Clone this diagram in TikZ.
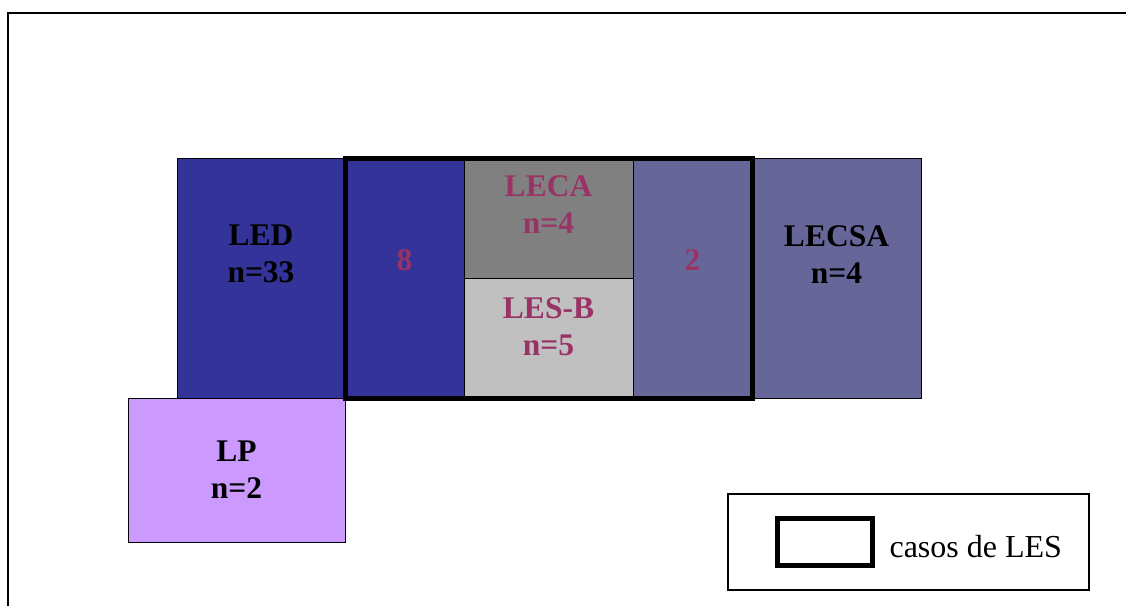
\documentclass[tikz,border=0pt]{standalone}
\usepackage{fontspec}
\setmainfont{Liberation Serif}
\usetikzlibrary{positioning,fit}
\definecolor{ledblue}{HTML}{333399}
\definecolor{slate}{HTML}{666699}
\definecolor{darkgrey}{HTML}{808080}
\definecolor{lightgrey}{HTML}{C0C0C0}
\definecolor{lilac}{HTML}{CC99FF}
\definecolor{plum}{HTML}{993366}

\begin{document}
\begin{tikzpicture}[x=1pt,y=-1pt,
cell/.style={draw,line width=1pt,inner sep=0pt,outer sep=0pt,anchor=north west},
lbl/.style={align=center,font=\fontsize{31.5}{37}\selectfont\bfseries},
inner/.style={lbl,text=plum}]
\useasboundingbox (0,0) rectangle (1126,606);
\draw[line width=2pt] (1126,13) -- (8,13) -- (8,606);
% cells
\node[cell,fill=ledblue,minimum width=168pt,minimum height=240pt] (led) at (177,158) {};
\node[cell,fill=ledblue,minimum width=119pt,minimum height=240pt,right=0pt of led.north east,anchor=north west] (eight) {};
\node[cell,fill=darkgrey,minimum width=169pt,minimum height=120pt,right=0pt of eight.north east,anchor=north west] (leca) {};
\node[cell,fill=lightgrey,minimum width=169pt,minimum height=120pt,below=0pt of leca.south west,anchor=north west] (lesb) {};
\node[cell,fill=slate,minimum width=119pt,minimum height=240pt,right=0pt of leca.north east,anchor=north west] (two) {};
\node[cell,fill=slate,minimum width=169pt,minimum height=240pt,right=0pt of two.north east,anchor=north west] (lecsa) {};
\node[cell,fill=lilac,minimum width=217pt,minimum height=144pt] (lp) at (128,398) {};
% LES frame
\node[draw,line width=5pt,inner sep=0pt,outer sep=0pt,fit=(eight)(two)] (les) {};
% labels
\node[lbl] at ([yshift=24pt]led.center) {LED\\n=33};
\node[inner] at ([yshift=18pt]eight.center) {8};
\node[inner] at ([yshift=13pt]leca.center) {LECA\\n=4};
\node[inner] at ([yshift=11pt]lesb.center) {LES-B\\n=5};
\node[inner] at ([yshift=18pt]two.center) {2};
\node[lbl] at ([yshift=23pt]lecsa.center) {LECSA\\n=4};
\node[lbl] at (lp.center) {LP\\n=2};
% legend
\node[draw,line width=1.5pt,minimum width=361pt,minimum height=96pt,inner sep=0pt,outer sep=0pt,anchor=north west] (legend) at (728,494) {};
\node[draw,line width=5pt,minimum width=95pt,minimum height=47pt,inner sep=0pt,outer sep=0pt,anchor=north west] (sample) at (777,518) {};
\node[font=\fontsize{32}{37}\selectfont,anchor=west,right=14pt of sample,yshift=-5pt] (key) {casos de LES};
\end{tikzpicture}
\end{document}
